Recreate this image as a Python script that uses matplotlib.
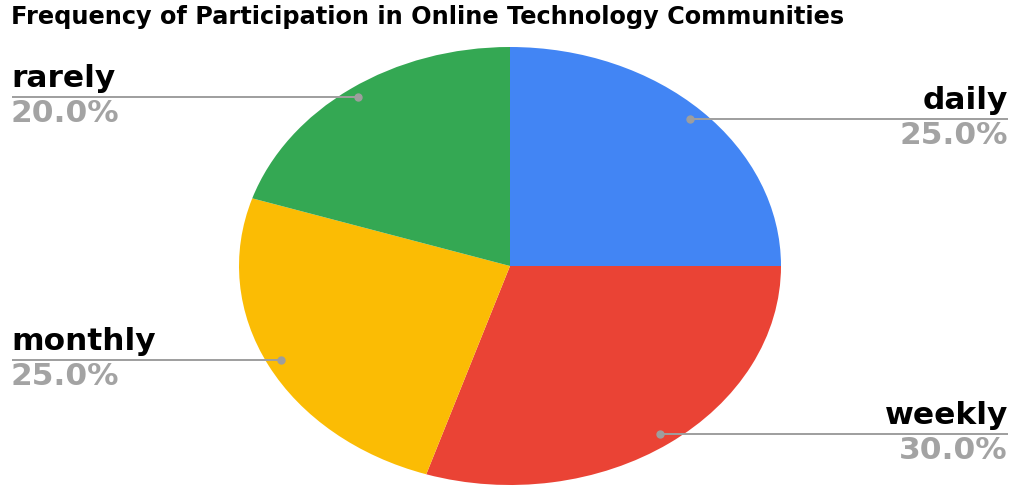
import matplotlib
matplotlib.use("Agg")
import matplotlib.pyplot as plt

# participation shares, clockwise from 12 o'clock
labels = ["daily", "weekly", "monthly", "rarely"]
shares = [25.0, 30.0, 25.0, 20.0]
colors = ["#4285F4", "#EA4335", "#FBBC04", "#34A853"]
title = "Frequency of Participation in Online Technology Communities"

W, H = 1015, 486
fig = plt.figure(figsize=(W / 100, H / 100), dpi=100)

def fx(px):
    return px / W

def fy(py):
    return 1 - py / H

# pie box in pixels: centre (510, 266), half-width 271, half-height 219
cx, cy, rx, ry = 510, 266, 271, 219
ax = fig.add_axes([fx(cx - rx), fy(cy + ry), 2 * rx / W, 2 * ry / H])
ax.pie(shares, colors=colors, startangle=90, counterclock=False,
       wedgeprops=dict(linewidth=0))
ax.set_aspect("auto")
ax.set_xlim(-1, 1)
ax.set_ylim(-1, 1)
ax.axis("off")

fig.text(fx(11), fy(17), title, fontsize=17.3, fontweight="bold",
         ha="left", va="center", color="#000000")

# leader lines: (dot x, line y, text side)
leaders = {
    "daily": (690, 119, "right"),
    "weekly": (660, 434, "right"),
    "monthly": (281, 360, "left"),
    "rarely": (358, 97, "left"),
}
line_ax = fig.add_axes([0, 0, 1, 1])
line_ax.set_xlim(0, W)
line_ax.set_ylim(H, 0)
line_ax.axis("off")
line_ax.patch.set_alpha(0)

for name, pct in zip(labels, shares):
    dot_x, ly, side = leaders[name]
    if side == "right":
        x0, x1, tx = dot_x, 1008, 1008
    else:
        x0, x1, tx = 12, dot_x, 11
    line_ax.plot([x0, x1], [ly, ly], color="#9E9E9E", lw=1.4,
                 solid_capstyle="butt")
    line_ax.plot([dot_x], [ly], "o", color="#9E9E9E", markersize=5)
    line_ax.text(tx, ly - 4, name, fontsize=22.5, fontweight="bold",
                 ha=side, va="bottom", color="#000000")
    line_ax.text(tx, ly + 2, f"{pct:.1f}%", fontsize=22.5, fontweight="bold",
                 ha=side, va="top", color="#A3A3A3")

fig.savefig("out.png", dpi=100, facecolor="white")
